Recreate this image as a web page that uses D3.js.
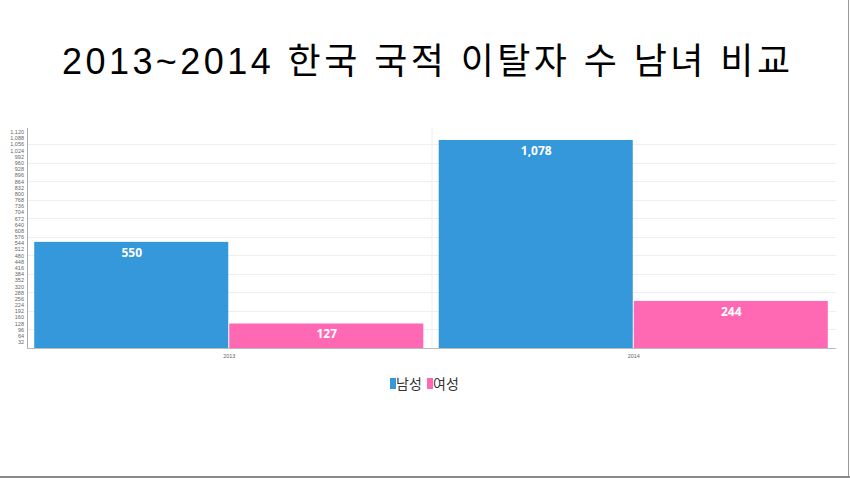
<!DOCTYPE html>
<html>
<head>
<meta charset="utf-8">
<script src="https://cdnjs.cloudflare.com/ajax/libs/d3/7.8.5/d3.min.js"></script>
<style>
  html, body { margin: 0; padding: 0; background: #fff; }
  svg { display: block; }
</style>
</head>
<body>
<div id="chart"></div>
<script>
var years = ["2013", "2014"];
var seriesNames = ["남성", "여성"];
var male = [550, 1078];
var female = [127, 244];
var yTicks = d3.range(32, 1121, 32);
var gridTicks = d3.range(0, 1121, 96);

var width = 850;
var height = 478;
var colors = ["#3498db", "#ff69b4"];
var fontKo = "'Liberation Sans', 'Noto Sans CJK KR', sans-serif";

var svg = d3.select("#chart").append("svg")
  .attr("width", width).attr("height", height);

// slide frame edges
svg.append("line").attr("x1", 848.5).attr("x2", 848.5).attr("y1", 0).attr("y2", height)
  .attr("stroke", "#9a9a9a").attr("stroke-width", 1);
svg.append("rect").attr("x", 0).attr("y", 476).attr("width", width).attr("height", 2)
  .attr("fill", "#8a8a8a");

svg.append("text")
  .attr("x", 62).attr("y", 74)
  .attr("textLength", 728)
  .attr("lengthAdjust", "spacing")
  .attr("font-family", fontKo)
  .attr("font-size", 36)
  .attr("fill", "#000")
  .text("2013~2014 한국 국적 이탈자 수 남녀 비교");

var plotLeft = 27, plotRight = 836, plotTop = 128, plotBottom = 348;

var y = d3.scaleLinear().domain([0, 1140]).range([plotBottom, plotTop]);
var x0 = d3.scaleBand().domain(years).range([plotLeft, plotRight]);
var x1 = d3.scaleBand().domain(seriesNames).range([0, x0.bandwidth()]).paddingOuter(0.037);

// grid
svg.append("g").selectAll("line").data(gridTicks).enter().append("line")
  .attr("x1", plotLeft).attr("x2", plotRight)
  .attr("y1", function (d) { return Math.round(y(d)) + 0.5; })
  .attr("y2", function (d) { return Math.round(y(d)) + 0.5; })
  .attr("stroke", "#eeeeee");
svg.append("line")
  .attr("x1", x0("2014") + 0.5).attr("x2", x0("2014") + 0.5)
  .attr("y1", plotTop).attr("y2", plotBottom)
  .attr("stroke", "#eeeeee");

// bars
var data = years.map(function (yr, i) {
  return { year: yr, values: [male[i], female[i]] };
});
var groups = svg.append("g").selectAll("g").data(data).enter().append("g")
  .attr("transform", function (d) { return "translate(" + x0(d.year) + ",0)"; });

groups.selectAll("rect").data(function (d) {
  return d.values.map(function (v, j) { return { name: seriesNames[j], value: v, j: j }; });
}).enter().append("rect")
  .attr("x", function (d) { return x1(d.name); })
  .attr("y", function (d) { return y(d.value); })
  .attr("width", x1.bandwidth() - 1)
  .attr("height", function (d) { return plotBottom - y(d.value); })
  .attr("fill", function (d) { return colors[d.j]; });

groups.selectAll("text").data(function (d) {
  return d.values.map(function (v, j) { return { name: seriesNames[j], value: v }; });
}).enter().append("text")
  .attr("x", function (d) { return x1(d.name) + x1.bandwidth() / 2; })
  .attr("y", function (d) { return y(d.value) + 15; })
  .attr("text-anchor", "middle")
  .attr("font-family", "'Open Sans', sans-serif")
  .attr("font-weight", "bold")
  .attr("font-size", 12)
  .attr("fill", "#fff")
  .text(function (d) { return d3.format(",")(d.value); });

// y axis
var yAxis = svg.append("g")
  .attr("transform", "translate(" + plotLeft + ",0)")
  .call(d3.axisLeft(y).tickValues(yTicks).tickSize(0).tickPadding(3).tickFormat(d3.format(",")));
yAxis.select(".domain").attr("stroke", "#aaa").attr("d", "M0.5," + plotTop + "V" + plotBottom);
yAxis.selectAll("text").attr("font-family", "'Liberation Sans', sans-serif")
  .attr("font-size", 5.5).attr("fill", "#666");

// x axis
var xAxis = svg.append("g")
  .attr("transform", "translate(0," + plotBottom + ")")
  .call(d3.axisBottom(x0).tickSize(0).tickPadding(6));
xAxis.select(".domain").attr("stroke", "#bbb").attr("d", "M" + plotLeft + ",0.5H" + plotRight);
xAxis.selectAll("text").attr("font-family", "'Liberation Sans', sans-serif")
  .attr("font-size", 5.5).attr("fill", "#666");

// legend
var legend = svg.append("g");
var lx = [390, 427];
seriesNames.forEach(function (name, i) {
  legend.append("rect").attr("x", lx[i]).attr("y", 378).attr("width", 6).attr("height", 11)
    .attr("fill", colors[i]);
  legend.append("text").attr("x", lx[i] + 6).attr("y", 389)
    .attr("font-family", "'Noto Sans CJK KR', sans-serif")
    .attr("font-size", 14).attr("fill", "#333")
    .text(name);
});
</script>
</body>
</html>
